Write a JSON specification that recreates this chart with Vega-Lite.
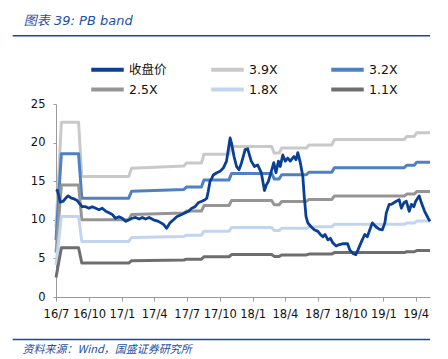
{
  "$schema": "https://vega.github.io/schema/vega-lite/v6.json",
  "width": 374,
  "height": 193,
  "autosize": "none",
  "padding": {"left": 56, "top": 104, "right": 18, "bottom": 62},
  "background": "white",
  "title": {
    "text": "图表 39:  PB band",
    "anchor": "start",
    "dx": 12,
    "offset": 7,
    "font": "DejaVu Sans, Noto Sans CJK SC",
    "fontSize": 13,
    "fontStyle": "italic",
    "fontWeight": "normal",
    "color": "#1F4FA3"
  },
  "config": {
    "view": {"stroke": null},
    "axis": {"grid": false, "labelFont": "DejaVu Sans", "labelFontSize": 11.5, "labelColor": "#111", "domainColor": "#9a9a9a", "tickColor": "#9a9a9a"}
  },
  "datasets": {
    "frame": [{}],
    "price": [
      {"d": "2016/07/01", "s": "收盘价", "v": 13.9},
      {"d": "2016/07/05", "s": "收盘价", "v": 13.8},
      {"d": "2016/07/13", "s": "收盘价", "v": 12.3},
      {"d": "2016/07/21", "s": "收盘价", "v": 12.4},
      {"d": "2016/07/30", "s": "收盘价", "v": 12.9},
      {"d": "2016/08/04", "s": "收盘价", "v": 13.1},
      {"d": "2016/08/13", "s": "收盘价", "v": 12.8},
      {"d": "2016/08/21", "s": "收盘价", "v": 12.7},
      {"d": "2016/08/29", "s": "收盘价", "v": 12.5},
      {"d": "2016/09/03", "s": "收盘价", "v": 12.2},
      {"d": "2016/09/12", "s": "收盘价", "v": 11.7},
      {"d": "2016/09/22", "s": "收盘价", "v": 11.7},
      {"d": "2016/10/01", "s": "收盘价", "v": 11.5},
      {"d": "2016/10/10", "s": "收盘价", "v": 11.7},
      {"d": "2016/10/20", "s": "收盘价", "v": 11.5},
      {"d": "2016/10/29", "s": "收盘价", "v": 11.3},
      {"d": "2016/11/07", "s": "收盘价", "v": 11.5},
      {"d": "2016/11/17", "s": "收盘价", "v": 11.1},
      {"d": "2016/11/26", "s": "收盘价", "v": 10.9},
      {"d": "2016/12/05", "s": "收盘价", "v": 10.7},
      {"d": "2016/12/14", "s": "收盘价", "v": 10.2},
      {"d": "2016/12/24", "s": "收盘价", "v": 10.4},
      {"d": "2017/01/02", "s": "收盘价", "v": 10.2},
      {"d": "2017/01/11", "s": "收盘价", "v": 9.8},
      {"d": "2017/01/21", "s": "收盘价", "v": 10.0},
      {"d": "2017/01/30", "s": "收盘价", "v": 10.2},
      {"d": "2017/02/08", "s": "收盘价", "v": 10.3},
      {"d": "2017/02/18", "s": "收盘价", "v": 10.1},
      {"d": "2017/02/27", "s": "收盘价", "v": 10.3},
      {"d": "2017/03/08", "s": "收盘价", "v": 10.1},
      {"d": "2017/03/18", "s": "收盘价", "v": 10.3},
      {"d": "2017/03/30", "s": "收盘价", "v": 10.0},
      {"d": "2017/04/13", "s": "收盘价", "v": 9.8},
      {"d": "2017/04/27", "s": "收盘价", "v": 9.4},
      {"d": "2017/05/06", "s": "收盘价", "v": 8.9},
      {"d": "2017/05/15", "s": "收盘价", "v": 9.6},
      {"d": "2017/05/25", "s": "收盘价", "v": 10.0},
      {"d": "2017/06/03", "s": "收盘价", "v": 10.4},
      {"d": "2017/06/17", "s": "收盘价", "v": 10.7},
      {"d": "2017/06/26", "s": "收盘价", "v": 10.9},
      {"d": "2017/07/06", "s": "收盘价", "v": 11.1},
      {"d": "2017/07/15", "s": "收盘价", "v": 11.5},
      {"d": "2017/07/24", "s": "收盘价", "v": 11.7},
      {"d": "2017/08/02", "s": "收盘价", "v": 12.2},
      {"d": "2017/08/12", "s": "收盘价", "v": 12.4},
      {"d": "2017/08/21", "s": "收盘价", "v": 12.6},
      {"d": "2017/08/26", "s": "收盘价", "v": 12.8},
      {"d": "2017/08/30", "s": "收盘价", "v": 13.7},
      {"d": "2017/09/04", "s": "收盘价", "v": 15.0},
      {"d": "2017/09/09", "s": "收盘价", "v": 15.4},
      {"d": "2017/09/13", "s": "收盘价", "v": 15.8},
      {"d": "2017/09/23", "s": "收盘价", "v": 16.1},
      {"d": "2017/10/02", "s": "收盘价", "v": 16.3},
      {"d": "2017/10/11", "s": "收盘价", "v": 16.7},
      {"d": "2017/10/20", "s": "收盘价", "v": 17.6},
      {"d": "2017/10/25", "s": "收盘价", "v": 19.1},
      {"d": "2017/10/30", "s": "收盘价", "v": 20.6},
      {"d": "2017/11/03", "s": "收盘价", "v": 19.9},
      {"d": "2017/11/10", "s": "收盘价", "v": 18.2},
      {"d": "2017/11/17", "s": "收盘价", "v": 16.9},
      {"d": "2017/11/24", "s": "收盘价", "v": 16.5},
      {"d": "2017/12/01", "s": "收盘价", "v": 17.4},
      {"d": "2017/12/11", "s": "收盘价", "v": 19.1},
      {"d": "2017/12/18", "s": "收盘价", "v": 19.2},
      {"d": "2017/12/28", "s": "收盘价", "v": 17.6},
      {"d": "2018/01/06", "s": "收盘价", "v": 16.9},
      {"d": "2018/01/15", "s": "收盘价", "v": 17.1},
      {"d": "2018/01/25", "s": "收盘价", "v": 16.1},
      {"d": "2018/02/03", "s": "收盘价", "v": 13.8},
      {"d": "2018/02/08", "s": "收盘价", "v": 14.5},
      {"d": "2018/02/14", "s": "收盘价", "v": 15.0},
      {"d": "2018/02/21", "s": "收盘价", "v": 16.1},
      {"d": "2018/03/01", "s": "收盘价", "v": 17.4},
      {"d": "2018/03/07", "s": "收盘价", "v": 16.1},
      {"d": "2018/03/14", "s": "收盘价", "v": 17.6},
      {"d": "2018/03/19", "s": "收盘价", "v": 16.9},
      {"d": "2018/03/26", "s": "收盘价", "v": 18.4},
      {"d": "2018/04/02", "s": "收盘价", "v": 17.6},
      {"d": "2018/04/09", "s": "收盘价", "v": 18.0},
      {"d": "2018/04/16", "s": "收盘价", "v": 17.6},
      {"d": "2018/04/26", "s": "收盘价", "v": 18.2},
      {"d": "2018/05/02", "s": "收盘价", "v": 17.8},
      {"d": "2018/05/07", "s": "收盘价", "v": 18.7},
      {"d": "2018/05/14", "s": "收盘价", "v": 17.4},
      {"d": "2018/05/21", "s": "收盘价", "v": 15.6},
      {"d": "2018/05/25", "s": "收盘价", "v": 13.0},
      {"d": "2018/05/30", "s": "收盘价", "v": 10.4},
      {"d": "2018/06/04", "s": "收盘价", "v": 9.6},
      {"d": "2018/06/13", "s": "收盘价", "v": 9.1},
      {"d": "2018/06/22", "s": "收盘价", "v": 8.7},
      {"d": "2018/07/02", "s": "收盘价", "v": 8.5},
      {"d": "2018/07/09", "s": "收盘价", "v": 8.1},
      {"d": "2018/07/16", "s": "收盘价", "v": 7.8},
      {"d": "2018/07/22", "s": "收盘价", "v": 8.1},
      {"d": "2018/07/30", "s": "收盘价", "v": 7.4},
      {"d": "2018/08/06", "s": "收盘价", "v": 7.6},
      {"d": "2018/08/13", "s": "收盘价", "v": 7.0},
      {"d": "2018/08/22", "s": "收盘价", "v": 6.6},
      {"d": "2018/08/31", "s": "收盘价", "v": 6.8},
      {"d": "2018/09/11", "s": "收盘价", "v": 6.9},
      {"d": "2018/09/23", "s": "收盘价", "v": 6.9},
      {"d": "2018/09/29", "s": "收盘价", "v": 6.1},
      {"d": "2018/10/09", "s": "收盘价", "v": 5.6},
      {"d": "2018/10/16", "s": "收盘价", "v": 5.5},
      {"d": "2018/10/22", "s": "收盘价", "v": 6.1},
      {"d": "2018/11/01", "s": "收盘价", "v": 7.2},
      {"d": "2018/11/10", "s": "收盘价", "v": 8.1},
      {"d": "2018/11/17", "s": "收盘价", "v": 7.8},
      {"d": "2018/11/24", "s": "收盘价", "v": 8.7},
      {"d": "2018/12/01", "s": "收盘价", "v": 9.6},
      {"d": "2018/12/11", "s": "收盘价", "v": 9.1},
      {"d": "2018/12/20", "s": "收盘价", "v": 8.8},
      {"d": "2018/12/29", "s": "收盘价", "v": 8.7},
      {"d": "2019/01/05", "s": "收盘价", "v": 9.6},
      {"d": "2019/01/09", "s": "收盘价", "v": 10.9},
      {"d": "2019/01/17", "s": "收盘价", "v": 12.0},
      {"d": "2019/01/23", "s": "收盘价", "v": 12.0},
      {"d": "2019/01/30", "s": "收盘价", "v": 12.2},
      {"d": "2019/02/06", "s": "收盘价", "v": 12.4},
      {"d": "2019/02/14", "s": "收盘价", "v": 12.6},
      {"d": "2019/02/20", "s": "收盘价", "v": 11.5},
      {"d": "2019/02/27", "s": "收盘价", "v": 12.2},
      {"d": "2019/03/06", "s": "收盘价", "v": 12.4},
      {"d": "2019/03/14", "s": "收盘价", "v": 11.1},
      {"d": "2019/03/20", "s": "收盘价", "v": 12.0},
      {"d": "2019/03/27", "s": "收盘价", "v": 11.7},
      {"d": "2019/04/01", "s": "收盘价", "v": 12.4},
      {"d": "2019/04/11", "s": "收盘价", "v": 13.1},
      {"d": "2019/04/17", "s": "收盘价", "v": 12.2},
      {"d": "2019/04/26", "s": "收盘价", "v": 11.1},
      {"d": "2019/05/06", "s": "收盘价", "v": 10.2},
      {"d": "2019/05/11", "s": "收盘价", "v": 9.8}
    ],
    "bands": [
      {"d": "2016/07/01", "s": "3.9X", "v": 8.97}, {"d": "2016/07/16", "s": "3.9X", "v": 22.62}, {"d": "2016/09/02", "s": "3.9X", "v": 22.62}, {"d": "2016/09/11", "s": "3.9X", "v": 15.6}, {"d": "2017/01/20", "s": "3.9X", "v": 15.6}, {"d": "2017/01/28", "s": "3.9X", "v": 16.69}, {"d": "2017/06/23", "s": "3.9X", "v": 16.97}, {"d": "2017/06/30", "s": "3.9X", "v": 17.36}, {"d": "2017/08/11", "s": "3.9X", "v": 17.36}, {"d": "2017/08/18", "s": "3.9X", "v": 18.49}, {"d": "2017/10/27", "s": "3.9X", "v": 18.49}, {"d": "2017/11/03", "s": "3.9X", "v": 19.5}, {"d": "2018/02/23", "s": "3.9X", "v": 19.5}, {"d": "2018/03/02", "s": "3.9X", "v": 18.64}, {"d": "2018/03/16", "s": "3.9X", "v": 18.64}, {"d": "2018/03/23", "s": "3.9X", "v": 19.31}, {"d": "2018/05/31", "s": "3.9X", "v": 19.31}, {"d": "2018/06/07", "s": "3.9X", "v": 19.7}, {"d": "2018/08/10", "s": "3.9X", "v": 19.7}, {"d": "2018/08/17", "s": "3.9X", "v": 20.4}, {"d": "2019/02/28", "s": "3.9X", "v": 20.4}, {"d": "2019/03/07", "s": "3.9X", "v": 20.79}, {"d": "2019/03/28", "s": "3.9X", "v": 20.79}, {"d": "2019/04/04", "s": "3.9X", "v": 21.29}, {"d": "2019/05/11", "s": "3.9X", "v": 21.29},
      {"d": "2016/07/01", "s": "3.2X", "v": 7.36}, {"d": "2016/07/16", "s": "3.2X", "v": 18.56}, {"d": "2016/09/02", "s": "3.2X", "v": 18.56}, {"d": "2016/09/11", "s": "3.2X", "v": 12.8}, {"d": "2017/01/20", "s": "3.2X", "v": 12.8}, {"d": "2017/01/28", "s": "3.2X", "v": 13.7}, {"d": "2017/06/23", "s": "3.2X", "v": 13.92}, {"d": "2017/06/30", "s": "3.2X", "v": 14.24}, {"d": "2017/08/11", "s": "3.2X", "v": 14.24}, {"d": "2017/08/18", "s": "3.2X", "v": 15.17}, {"d": "2017/10/27", "s": "3.2X", "v": 15.17}, {"d": "2017/11/03", "s": "3.2X", "v": 16.0}, {"d": "2018/02/23", "s": "3.2X", "v": 16.0}, {"d": "2018/03/02", "s": "3.2X", "v": 15.3}, {"d": "2018/03/16", "s": "3.2X", "v": 15.3}, {"d": "2018/03/23", "s": "3.2X", "v": 15.84}, {"d": "2018/05/31", "s": "3.2X", "v": 15.84}, {"d": "2018/06/07", "s": "3.2X", "v": 16.16}, {"d": "2018/08/10", "s": "3.2X", "v": 16.16}, {"d": "2018/08/17", "s": "3.2X", "v": 16.74}, {"d": "2019/02/28", "s": "3.2X", "v": 16.74}, {"d": "2019/03/07", "s": "3.2X", "v": 17.06}, {"d": "2019/03/28", "s": "3.2X", "v": 17.06}, {"d": "2019/04/04", "s": "3.2X", "v": 17.47}, {"d": "2019/05/11", "s": "3.2X", "v": 17.47},
      {"d": "2016/07/01", "s": "2.5X", "v": 5.75}, {"d": "2016/07/16", "s": "2.5X", "v": 14.5}, {"d": "2016/09/02", "s": "2.5X", "v": 14.5}, {"d": "2016/09/11", "s": "2.5X", "v": 10.0}, {"d": "2017/01/20", "s": "2.5X", "v": 10.0}, {"d": "2017/01/28", "s": "2.5X", "v": 10.7}, {"d": "2017/06/23", "s": "2.5X", "v": 10.88}, {"d": "2017/06/30", "s": "2.5X", "v": 11.13}, {"d": "2017/08/11", "s": "2.5X", "v": 11.13}, {"d": "2017/08/18", "s": "2.5X", "v": 11.85}, {"d": "2017/10/27", "s": "2.5X", "v": 11.85}, {"d": "2017/11/03", "s": "2.5X", "v": 12.5}, {"d": "2018/02/23", "s": "2.5X", "v": 12.5}, {"d": "2018/03/02", "s": "2.5X", "v": 11.95}, {"d": "2018/03/16", "s": "2.5X", "v": 11.95}, {"d": "2018/03/23", "s": "2.5X", "v": 12.38}, {"d": "2018/05/31", "s": "2.5X", "v": 12.38}, {"d": "2018/06/07", "s": "2.5X", "v": 12.63}, {"d": "2018/08/10", "s": "2.5X", "v": 12.63}, {"d": "2018/08/17", "s": "2.5X", "v": 13.08}, {"d": "2019/02/28", "s": "2.5X", "v": 13.08}, {"d": "2019/03/07", "s": "2.5X", "v": 13.33}, {"d": "2019/03/28", "s": "2.5X", "v": 13.33}, {"d": "2019/04/04", "s": "2.5X", "v": 13.65}, {"d": "2019/05/11", "s": "2.5X", "v": 13.65},
      {"d": "2016/07/01", "s": "1.8X", "v": 4.14}, {"d": "2016/07/16", "s": "1.8X", "v": 10.44}, {"d": "2016/09/02", "s": "1.8X", "v": 10.44}, {"d": "2016/09/11", "s": "1.8X", "v": 7.2}, {"d": "2017/01/20", "s": "1.8X", "v": 7.2}, {"d": "2017/01/28", "s": "1.8X", "v": 7.7}, {"d": "2017/06/23", "s": "1.8X", "v": 7.83}, {"d": "2017/06/30", "s": "1.8X", "v": 8.01}, {"d": "2017/08/11", "s": "1.8X", "v": 8.01}, {"d": "2017/08/18", "s": "1.8X", "v": 8.53}, {"d": "2017/10/27", "s": "1.8X", "v": 8.53}, {"d": "2017/11/03", "s": "1.8X", "v": 9.0}, {"d": "2018/02/23", "s": "1.8X", "v": 9.0}, {"d": "2018/03/02", "s": "1.8X", "v": 8.6}, {"d": "2018/03/16", "s": "1.8X", "v": 8.6}, {"d": "2018/03/23", "s": "1.8X", "v": 8.91}, {"d": "2018/05/31", "s": "1.8X", "v": 8.91}, {"d": "2018/06/07", "s": "1.8X", "v": 9.09}, {"d": "2018/08/10", "s": "1.8X", "v": 9.09}, {"d": "2018/08/17", "s": "1.8X", "v": 9.41}, {"d": "2019/02/28", "s": "1.8X", "v": 9.41}, {"d": "2019/03/07", "s": "1.8X", "v": 9.59}, {"d": "2019/03/28", "s": "1.8X", "v": 9.59}, {"d": "2019/04/04", "s": "1.8X", "v": 9.83}, {"d": "2019/05/11", "s": "1.8X", "v": 9.83},
      {"d": "2016/07/01", "s": "1.1X", "v": 2.53}, {"d": "2016/07/16", "s": "1.1X", "v": 6.38}, {"d": "2016/09/02", "s": "1.1X", "v": 6.38}, {"d": "2016/09/11", "s": "1.1X", "v": 4.4}, {"d": "2017/01/20", "s": "1.1X", "v": 4.4}, {"d": "2017/01/28", "s": "1.1X", "v": 4.71}, {"d": "2017/06/23", "s": "1.1X", "v": 4.79}, {"d": "2017/06/30", "s": "1.1X", "v": 4.9}, {"d": "2017/08/11", "s": "1.1X", "v": 4.9}, {"d": "2017/08/18", "s": "1.1X", "v": 5.21}, {"d": "2017/10/27", "s": "1.1X", "v": 5.21}, {"d": "2017/11/03", "s": "1.1X", "v": 5.5}, {"d": "2018/02/23", "s": "1.1X", "v": 5.5}, {"d": "2018/03/02", "s": "1.1X", "v": 5.26}, {"d": "2018/03/16", "s": "1.1X", "v": 5.26}, {"d": "2018/03/23", "s": "1.1X", "v": 5.45}, {"d": "2018/05/31", "s": "1.1X", "v": 5.45}, {"d": "2018/06/07", "s": "1.1X", "v": 5.56}, {"d": "2018/08/10", "s": "1.1X", "v": 5.56}, {"d": "2018/08/17", "s": "1.1X", "v": 5.75}, {"d": "2019/02/28", "s": "1.1X", "v": 5.75}, {"d": "2019/03/07", "s": "1.1X", "v": 5.86}, {"d": "2019/03/28", "s": "1.1X", "v": 5.86}, {"d": "2019/04/04", "s": "1.1X", "v": 6.01}, {"d": "2019/05/11", "s": "1.1X", "v": 6.01}
    ]
  },
  "layer": [
    {
      "data": {"name": "frame"},
      "mark": {"type": "rule", "color": "#1248A8", "strokeWidth": 1.6, "clip": false},
      "encoding": {
        "x": {"datum": {"year": 2016, "month": 3, "date": 2}, "type": "temporal"},
        "x2": {"datum": {"year": 2019, "month": 5, "date": 11}},
        "y": {"datum": 33.85, "type": "quantitative"}
      }
    },
    {
      "data": {"name": "frame"},
      "mark": {"type": "rule", "color": "#1248A8", "strokeWidth": 1.6, "clip": false},
      "encoding": {
        "x": {"datum": {"year": 2016, "month": 3, "date": 2}, "type": "temporal"},
        "x2": {"datum": {"year": 2019, "month": 5, "date": 11}},
        "y": {"datum": -5.5, "type": "quantitative"}
      }
    },
    {
      "data": {"name": "bands"},
      "mark": {"type": "line", "strokeWidth": 3, "strokeJoin": "round", "clip": false},
      "encoding": {
        "x": {"field": "d", "type": "temporal"},
        "y": {"field": "v", "type": "quantitative"},
        "color": {"field": "s", "type": "nominal"},
        "detail": {"field": "s"}
      }
    },
    {
      "data": {"name": "price"},
      "mark": {"type": "line", "strokeWidth": 2.8, "strokeJoin": "round", "clip": false},
      "encoding": {
        "x": {"field": "d", "type": "temporal"},
        "y": {"field": "v", "type": "quantitative"},
        "color": {"field": "s", "type": "nominal"}
      }
    }
  ],
  "encoding": {
    "x": {
      "type": "temporal",
      "scale": {"domain": [{"year": 2016, "month": 7, "date": 1}, {"year": 2019, "month": 5, "date": 11}], "nice": false},
      "axis": {
        "format": "%y/%-m",
        "values": [
          {"year": 2016, "month": 7, "date": 1}, {"year": 2016, "month": 10, "date": 1},
          {"year": 2017, "month": 1, "date": 1}, {"year": 2017, "month": 4, "date": 1},
          {"year": 2017, "month": 7, "date": 1}, {"year": 2017, "month": 10, "date": 1},
          {"year": 2018, "month": 1, "date": 1}, {"year": 2018, "month": 4, "date": 1},
          {"year": 2018, "month": 7, "date": 1}, {"year": 2018, "month": 10, "date": 1},
          {"year": 2019, "month": 1, "date": 1}, {"year": 2019, "month": 4, "date": 1}
        ],
        "tickSize": 4,
        "labelPadding": 7,
        "labelFlush": false,
        "labelOverlap": false,
        "title": "资料来源：Wind，国盛证券研究所",
        "titleFont": "Noto Sans CJK SC",
        "titleFontSize": 11,
        "titleFontStyle": "italic",
        "titleFontWeight": "normal",
        "titleColor": "#1F4FA3",
        "titleAnchor": "start",
        "titleAlign": "left",
        "titleBaseline": "middle",
        "titleX": -34,
        "titleY": 52
      }
    },
    "y": {
      "type": "quantitative",
      "scale": {"domain": [0, 25], "nice": false},
      "axis": {"values": [0, 5, 10, 15, 20, 25], "tickSize": 3, "labelPadding": 8, "title": null}
    },
    "color": {
      "type": "nominal",
      "scale": {
        "domain": ["收盘价", "3.9X", "3.2X", "2.5X", "1.8X", "1.1X"],
        "range": ["#0B3E95", "#C9C9C9", "#4F80C6", "#959595", "#C3D5EE", "#6E6E6E"]
      },
      "legend": {
        "title": null,
        "orient": "none",
        "legendX": 43,
        "legendY": -43,
        "direction": "horizontal",
        "columns": 3,
        "symbolType": "M-2.5,0H2.5",
        "symbolStrokeWidth": 4,
        "symbolSize": 169,
        "labelFont": "DejaVu Sans, Noto Sans CJK SC",
        "labelFontSize": 12.5,
        "labelColor": "#111",
        "labelOffset": 13,
        "columnPadding": 36,
        "rowPadding": 3,
        "gridAlign": "all"
      }
    }
  }
}
